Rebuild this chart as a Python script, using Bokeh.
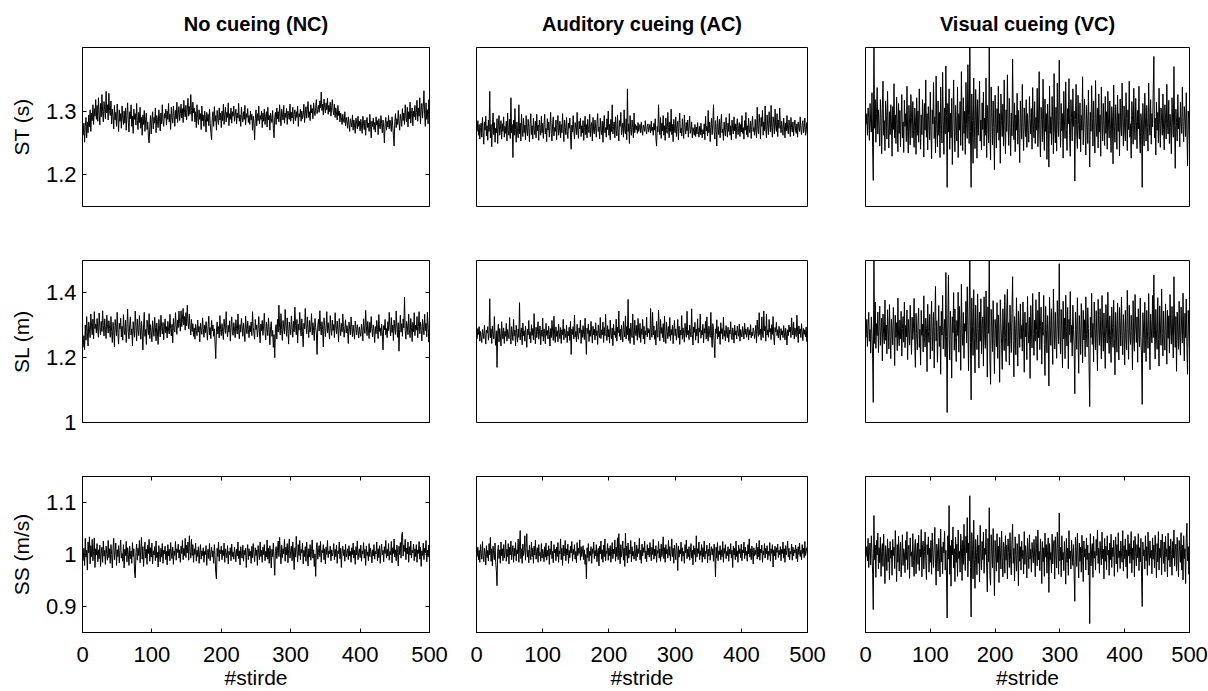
import numpy as np
from bokeh.plotting import figure
from bokeh.models import LinearAxis, Range1d, FixedTicker, CustomJSTickFormatter
from bokeh.layouts import row, column
from bokeh.embed import file_html
from bokeh.resources import INLINE

# ---------------- data (milli-units: ms, mm, mm/s) ----------------
conditions = ["No cueing (NC)", "Auditory cueing (AC)", "Visual cueing (VC)"]
row_labels = ["ST (s)", "SL (m)", "SS (m/s)"]
x_labels = ["#stirde", "#stride", "#stride"]
y_limits = [(1.15, 1.4), (1.0, 1.5), (0.85, 1.15)]
y_ticks = [[1.2, 1.3], [1.0, 1.2, 1.4], [0.9, 1.0, 1.1]]
x_ticks = [0, 100, 200, 300, 400, 500]

st_nc = [
1262,1281,1251,1276,1290,1258,1283,1266,1294,1275,1302,1268,1297,1285,1310,1279,1304,1292,1318,1287,
1309,1284,1321,1296,1278,1312,1291,1326,1299,1283,1315,1302,1288,1331,1297,1310,1286,1328,1301,1293,
1316,1280,1303,1291,1272,1309,1286,1298,1276,1311,1290,1268,1302,1284,1296,1273,1308,1289,1279,1300,
1281,1305,1270,1294,1313,1283,1267,1299,1288,1310,1276,1292,1265,1303,1287,1296,1278,1312,1285,1271,
1298,1282,1306,1273,1290,1262,1294,1279,1301,1268,1287,1297,1271,1283,1259,1250,1276,1293,1264,1286,
1299,1272,1290,1281,1305,1266,1293,1284,1274,1302,1288,1269,1297,1280,1310,1285,1276,1296,1289,1303,
1278,1300,1287,1312,1283,1295,1271,1306,1290,1281,1308,1293,1276,1301,1288,1314,1282,1297,1307,1285,
1296,1311,1289,1304,1282,1317,1298,1291,1309,1286,1303,1320,1292,1307,1295,1326,1301,1284,1314,1297,
1305,1283,1299,1274,1310,1290,1279,1302,1287,1296,1271,1308,1285,1294,1276,1300,1289,1267,1298,1284,
1295,1277,1303,1281,1266,1255,1290,1299,1276,1307,1284,1293,1270,1301,1288,1279,1305,1286,1297,1274,
1300,1285,1311,1279,1294,1306,1283,1298,1290,1313,1277,1296,1287,1305,1281,1299,1292,1308,1284,1295,
1303,1280,1297,1289,1312,1284,1294,1276,1306,1291,1283,1299,1287,1309,1278,1296,1290,1304,1282,1293,
1279,1300,1286,1295,1270,1292,1281,1255,1289,1302,1277,1296,1285,1308,1280,1293,1287,1300,1274,1297,
1284,1303,1279,1291,1299,1275,1306,1286,1293,1270,1297,1288,1282,1301,1273,1258,1290,1298,1279,1305,
1288,1299,1283,1310,1292,1277,1303,1295,1286,1309,1281,1297,1290,1304,1279,1300,1293,1287,1311,1284,
1298,1289,1306,1280,1295,1302,1285,1299,1290,1308,1276,1296,1291,1303,1284,1300,1288,1294,1311,1282,
1296,1307,1289,1302,1315,1290,1299,1285,1310,1297,1304,1288,1313,1300,1293,1306,1318,1296,1302,1309,
1298,1316,1305,1330,1301,1311,1294,1319,1306,1297,1313,1302,1320,1295,1309,1299,1314,1292,1306,1318,
1301,1294,1311,1290,1305,1297,1286,1309,1293,1300,1283,1297,1290,1279,1295,1286,1282,1299,1277,1290,
1284,1273,1291,1279,1268,1288,1282,1275,1294,1270,1286,1278,1265,1289,1281,1272,1292,1276,1284,1269,
1287,1277,1265,1292,1280,1271,1286,1262,1283,1290,1274,1281,1268,1295,1279,1258,1284,1276,1289,1271,
1282,1267,1291,1278,1285,1263,1288,1276,1272,1293,1281,1266,1286,1274,1250,1279,1290,1270,1284,1275,
1293,1272,1286,1280,1268,1291,1277,1262,1245,1284,1296,1274,1288,1279,1301,1283,1270,1295,1287,1276,
1304,1285,1297,1279,1310,1291,1283,1306,1275,1299,1288,1314,1281,1296,1305,1277,1300,1291,1309,1286,
1298,1317,1284,1305,1292,1321,1280,1303,1312,1289,1308,1332,1294,1276,1313,1287,1302,1280,1318,1291,
]

st_ac = [
1268,1285,1262,1279,1256,1274,1281,1259,1290,1266,1248,1283,1270,1292,1261,1277,1254,1286,1268,1331,
1258,1279,1244,1275,1297,1263,1282,1251,1273,1266,1288,1249,1277,1293,1262,1271,1285,1256,1280,1268,
1291,1259,1276,1265,1284,1253,1297,1270,1262,1287,1257,1321,1266,1279,1227,1286,1262,1304,1271,1251,
1283,1268,1258,1310,1264,1281,1253,1295,1272,1260,1289,1266,1278,1255,1293,1270,1261,1287,1274,1252,
1281,1296,1263,1277,1256,1289,1271,1263,1284,1258,1295,1269,1278,1254,1286,1273,1262,1292,1266,1281,
1257,1279,1295,1264,1273,1252,1288,1270,1283,1259,1276,1298,1265,1253,1280,1291,1261,1274,1268,1286,
1255,1277,1293,1262,1270,1284,1258,1279,1266,1296,1271,1252,1286,1274,1263,1290,1268,1257,1281,1273,
1289,1261,1240,1278,1267,1293,1270,1256,1282,1275,1263,1298,1269,1257,1284,1272,1289,1260,1277,1266,
1285,1254,1274,1292,1263,1279,1258,1287,1271,1266,1295,1260,1276,1282,1253,1290,1269,1264,1286,1273,
1259,1281,1296,1268,1275,1256,1289,1270,1263,1284,1251,1278,1293,1266,1274,1259,1288,1271,1300,1262,
1279,1255,1287,1268,1310,1264,1276,1283,1258,1291,1270,1261,1294,1267,1253,1285,1276,1298,1263,1272,
1281,1259,1302,1270,1264,1288,1255,1335,1268,1280,1249,1293,1271,1262,1286,1274,1258,1297,1266,1279,
1271,1277,1265,1282,1268,1274,1279,1266,1283,1270,1262,1278,1273,1268,1285,1271,1264,1276,1280,1267,
1273,1279,1266,1284,1269,1275,1262,1281,1270,1288,1258,1245,1276,1267,1310,1272,1263,1290,1257,1281,
1269,1293,1262,1277,1254,1289,1271,1265,1298,1274,1258,1283,1268,1303,1263,1279,1252,1287,1272,1266,
1291,1260,1276,1284,1255,1279,1297,1266,1273,1261,1288,1270,1257,1294,1275,1264,1282,1269,1286,1259,
1277,1292,1265,1271,1283,1258,1274,1268,1262,1279,1260,1275,1264,1282,1268,1259,1276,1263,1281,1266,
1258,1271,1264,1280,1255,1292,1269,1276,1261,1301,1266,1283,1252,1274,1289,1263,1279,1310,1268,1256,
1285,1271,1245,1292,1274,1263,1287,1258,1278,1295,1266,1272,1254,1283,1270,1261,1290,1275,1259,1281,
1268,1296,1262,1277,1255,1286,1272,1264,1291,1269,1280,1257,1276,1288,1263,1273,1282,1260,1279,1267,
1293,1265,1274,1256,1285,1270,1298,1263,1277,1259,1289,1271,1266,1284,1257,1278,1292,1268,1274,1262,
1287,1270,1258,1306,1273,1264,1295,1281,1256,1290,1276,1301,1262,1283,1269,1308,1271,1258,1294,1277,
1263,1299,1280,1267,1309,1274,1259,1291,1282,1264,1303,1276,1268,1296,1260,1286,1273,1305,1279,1266,
1284,1271,1262,1289,1275,1258,1281,1269,1293,1272,1264,1286,1277,1260,1290,1274,1267,1283,1261,1278,
1286,1270,1265,1280,1259,1283,1275,1268,1291,1272,1263,1279,1285,1266,1274,1289,1262,1270,1282,1258,
]

st_vc = [
1279,1296,1262,1305,1288,1254,1312,1281,1267,1329,1243,1191,1420,1273,1318,1251,1296,1337,1264,1302,
1276,1245,1318,1289,1233,1304,1347,1262,1285,1238,1316,1293,1256,1331,1275,1242,1299,1263,1310,1284,
1229,1307,1271,1343,1258,1294,1249,1322,1280,1236,1312,1265,1301,1244,1289,1326,1258,1283,1235,1317,
1276,1296,1252,1339,1268,1234,1309,1281,1247,1326,1290,1258,1315,1270,1243,1305,1286,1232,1321,1262,
1300,1251,1335,1277,1240,1294,1263,1318,1286,1228,1312,1270,1349,1259,1296,1239,1307,1282,1255,1330,
1268,1225,1302,1280,1345,1257,1291,1234,1355,1273,1244,1316,1262,1298,1227,1338,1279,1250,1361,1284,
1232,1305,1264,1371,1293,1180,1312,1267,1335,1240,1297,1258,1320,1216,1288,1349,1272,1236,1309,1281,
1253,1338,1227,1296,1270,1315,1246,1362,1284,1238,1321,1265,1300,1232,1345,1279,1257,1373,1293,1249,
1410,1268,1180,1327,1285,1218,1352,1276,1241,1334,1300,1226,1318,1262,1297,1347,1253,1286,1239,1313,
1271,1330,1245,1289,1262,1352,1227,1309,1283,1250,1410,1266,1223,1338,1290,1247,1316,1274,1208,1325,
1281,1242,1304,1266,1339,1254,1296,1218,1327,1285,1260,1311,1245,1349,1277,1233,1302,1268,1357,1281,
1246,1320,1274,1230,1297,1261,1382,1289,1255,1313,1236,1294,1270,1328,1248,1301,1265,1219,1316,1282,
1256,1342,1274,1238,1305,1279,1260,1318,1243,1296,1270,1251,1323,1287,1264,1304,1240,1337,1278,1258,
1315,1249,1290,1270,1336,1244,1281,1362,1263,1228,1306,1287,1252,1350,1275,1238,1319,1268,1296,1224,
1311,1280,1212,1339,1265,1291,1247,1323,1284,1233,1359,1272,1250,1306,1237,1344,1277,1260,1380,1285,
1243,1312,1269,1296,1226,1331,1283,1257,1346,1271,1238,1304,1280,1351,1262,1229,1318,1290,1253,1335,
1276,1300,1190,1287,1342,1264,1241,1325,1279,1256,1313,1236,1293,1270,1354,1247,1285,1319,1266,1231,
1309,1281,1249,1333,1274,1212,1298,1268,1340,1288,1245,1316,1271,1234,1348,1283,1260,1305,1242,1327,
1267,1294,1229,1338,1285,1253,1312,1277,1246,1323,1265,1299,1240,1331,1280,1258,1316,1271,1235,1307,
1289,1217,1341,1276,1251,1310,1283,1240,1325,1268,1296,1230,1319,1275,1261,1344,1284,1245,1308,1272,
1253,1329,1288,1238,1302,1271,1347,1259,1280,1226,1315,1293,1248,1336,1277,1255,1320,1284,1241,1301,
1272,1339,1260,1234,1296,1283,1180,1312,1269,1245,1328,1286,1253,1309,1274,1237,1344,1281,1262,1318,
1248,1296,1275,1330,1386,1258,1289,1231,1314,1270,1298,1250,1336,1279,1243,1305,1285,1262,1327,1271,
1239,1310,1288,1256,1342,1280,1264,1317,1249,1295,1274,1233,1321,1286,1259,1370,1277,1210,1303,1282,
1253,1326,1272,1290,1244,1314,1281,1265,1338,1276,1252,1307,1289,1260,1329,1271,1214,1300,1287,1248,
]

sl_nc = [
1232,1268,1225,1301,1254,1327,1279,1236,1310,1288,1262,1335,1297,1271,1319,1258,1342,1290,1304,1276,
1321,1285,1263,1338,1294,1270,1312,1281,1345,1299,1267,1320,1288,1259,1331,1302,1276,1314,1290,1263,
1327,1281,1247,1309,1286,1233,1318,1295,1268,1340,1277,1242,1306,1289,1322,1264,1297,1254,1333,1284,
1271,1316,1247,1292,1350,1279,1258,1303,1326,1270,1289,1237,1311,1283,1263,1344,1297,1252,1319,1286,
1268,1330,1293,1257,1312,1279,1224,1301,1340,1266,1287,1241,1316,1294,1271,1336,1259,1302,1281,1249,
1314,1288,1266,1325,1293,1252,1307,1276,1241,1318,1289,1264,1331,1296,1273,1309,1255,1292,1320,1277,
1296,1261,1312,1285,1273,1334,1290,1267,1303,1246,1321,1288,1279,1339,1300,1272,1316,1293,1344,1306,
1282,1345,1296,1318,1352,1301,1327,1285,1339,1298,1362,1310,1289,1334,1295,1270,1318,1281,1305,1266,
1292,1257,1303,1284,1268,1316,1279,1296,1249,1307,1285,1272,1323,1290,1263,1301,1277,1311,1288,1254,
1297,1328,1270,1293,1259,1315,1283,1301,1266,1289,1245,1197,1282,1310,1273,1296,1261,1330,1287,1268,
1305,1281,1256,1319,1292,1275,1342,1288,1264,1300,1279,1314,1251,1293,1326,1280,1269,1308,1286,1262,
1317,1290,1273,1335,1284,1258,1302,1279,1321,1295,1266,1306,1283,1250,1329,1291,1274,1313,1287,1262,
1299,1280,1310,1268,1342,1293,1276,1257,1318,1287,1301,1264,1290,1327,1276,1246,1304,1283,1315,1269,
1298,1337,1281,1255,1309,1290,1268,1323,1285,1240,1296,1311,1266,1284,1232,1271,1200,1289,1302,1258,
1318,1279,1362,1294,1270,1336,1287,1253,1315,1292,1274,1349,1301,1266,1323,1283,1242,1310,1291,1271,
1329,1294,1263,1312,1280,1356,1299,1271,1318,1245,1303,1285,1340,1292,1267,1320,1281,1234,1306,1289,
1352,1301,1274,1326,1288,1262,1315,1279,1297,1336,1270,1308,1284,1253,1321,1293,1276,1210,1299,1318,
1282,1345,1296,1270,1311,1287,1233,1323,1300,1265,1294,1342,1277,1308,1283,1257,1330,1291,1269,1316,
1284,1302,1262,1339,1295,1274,1313,1286,1249,1321,1292,1268,1306,1280,1335,1297,1263,1290,1317,1276,
1299,1282,1244,1310,1288,1271,1326,1294,1265,1301,1279,1257,1313,1291,1270,1302,1284,1261,1295,1277,
1266,1304,1283,1252,1320,1289,1275,1346,1297,1268,1312,1285,1259,1309,1278,1327,1290,1264,1301,1283,
1247,1296,1274,1315,1288,1259,1333,1281,1292,1268,1304,1276,1224,1299,1286,1318,1271,1290,1262,1311,
1284,1340,1293,1267,1324,1278,1301,1253,1316,1289,1272,1344,1295,1263,1308,1220,1287,1331,1279,1305,
1266,1320,1292,1387,1283,1257,1312,1298,1271,1335,1286,1262,1321,1294,1250,1309,1280,1339,1268,1301,
1285,1327,1261,1296,1342,1274,1310,1288,1252,1318,1297,1271,1334,1283,1306,1265,1340,1291,1248,1322,
]

sl_ac = [
1258,1290,1272,1296,1251,1281,1265,1247,1287,1273,1259,1300,1268,1242,1285,1276,1296,1254,1270,1382,
1262,1289,1244,1298,1271,1258,1327,1264,1238,1283,1170,1276,1303,1249,1290,1267,1236,1311,1273,1258,
1292,1244,1281,1266,1306,1251,1287,1270,1259,1324,1263,1242,1296,1277,1253,1318,1268,1285,1237,1300,
1274,1248,1289,1263,1370,1255,1279,1292,1240,1307,1268,1283,1251,1298,1264,1232,1288,1271,1315,1258,
1280,1246,1302,1269,1290,1255,1336,1272,1243,1294,1262,1281,1311,1257,1276,1298,1240,1285,1266,1322,
1251,1289,1274,1243,1306,1269,1284,1258,1297,1272,1236,1290,1262,1315,1280,1253,1328,1271,1247,1295,
1266,1283,1249,1304,1278,1259,1293,1244,1286,1270,1318,1255,1289,1275,1262,1300,1247,1281,1268,1294,
1253,1312,1210,1288,1272,1296,1258,1331,1264,1281,1249,1303,1270,1257,1292,1276,1316,1244,1286,1263,
1299,1271,1256,1322,1267,1210,1291,1275,1304,1250,1284,1266,1312,1279,1245,1297,1270,1288,1255,1308,
1268,1283,1241,1301,1274,1262,1324,1259,1286,1271,1310,1247,1293,1268,1334,1276,1253,1299,1264,1287,
1245,1316,1273,1258,1292,1237,1303,1270,1281,1262,1319,1251,1294,1277,1344,1266,1288,1255,1301,1273,
1249,1312,1283,1264,1329,1258,1296,1271,1380,1253,1290,1244,1307,1278,1262,1335,1269,1240,1316,1283,
1268,1300,1254,1321,1277,1262,1306,1247,1289,1272,1318,1258,1297,1242,1283,1270,1325,1264,1291,1276,
1287,1255,1352,1278,1263,1340,1270,1298,1257,1284,1239,1312,1273,1263,1347,1286,1252,1318,1275,1293,
1262,1305,1249,1328,1271,1244,1310,1280,1259,1296,1266,1324,1253,1287,1270,1300,1243,1282,1315,1268,
1289,1254,1276,1318,1262,1297,1241,1285,1270,1330,1257,1292,1274,1248,1306,1279,1263,1343,1271,1284,
1256,1301,1280,1264,1351,1272,1239,1295,1278,1309,1254,1288,1267,1320,1245,1292,1279,1335,1260,1284,
1270,1303,1246,1290,1276,1312,1258,1326,1271,1251,1297,1280,1263,1340,1268,1232,1305,1285,1245,1200,
1289,1275,1317,1258,1296,1264,1281,1241,1308,1275,1290,1257,1325,1266,1284,1252,1299,1271,1262,1294,
1248,1285,1273,1311,1264,1256,1292,1277,1245,1301,1270,1283,1258,1298,1279,1266,1304,1251,1287,1275,
1264,1296,1280,1258,1307,1272,1289,1263,1278,1294,1255,1286,1270,1302,1261,1279,1268,1292,1283,1259,
1274,1300,1245,1316,1282,1266,1339,1271,1288,1254,1326,1276,1262,1344,1283,1297,1251,1334,1270,1286,
1263,1318,1279,1290,1256,1302,1272,1327,1265,1240,1293,1280,1309,1268,1286,1261,1297,1275,1254,1290,
1270,1283,1262,1299,1277,1255,1291,1273,1239,1286,1268,1301,1279,1294,1262,1323,1284,1270,1310,1258,
1292,1277,1265,1331,1282,1247,1298,1274,1289,1262,1305,1279,1253,1290,1272,1286,1264,1295,1250,1281,
]

sl_vc = [
1262,1318,1235,1296,1340,1251,1287,1214,1326,1275,1198,1062,1530,1244,1372,1229,1305,1268,1341,1216,
1297,1359,1238,1284,1322,1190,1335,1271,1243,1378,1254,1301,1212,1348,1286,1227,1364,1265,1197,1319,
1282,1240,1355,1296,1176,1331,1263,1308,1222,1384,1270,1237,1316,1259,1343,1205,1290,1327,1248,1372,
1231,1300,1264,1347,1194,1318,1279,1239,1362,1286,1210,1325,1256,1291,1383,1242,1170,1337,1275,1224,
1309,1353,1232,1288,1177,1346,1269,1303,1218,1391,1262,1233,1322,1290,1157,1365,1281,1247,1334,1196,
1305,1374,1221,1283,1340,1168,1297,1420,1252,1314,1186,1277,1361,1235,1298,1149,1343,1270,1392,1227,
1281,1318,1203,1463,1266,1031,1310,1455,1259,1193,1344,1285,1137,1326,1277,1401,1223,1350,1263,1188,
1315,1269,1402,1217,1358,1291,1161,1427,1276,1238,1340,1198,1305,1282,1374,1246,1419,1300,1160,1335,
1530,1247,1070,1384,1296,1207,1410,1263,1153,1362,1279,1225,1397,1290,1168,1341,1251,1382,1212,1303,
1326,1174,1388,1264,1229,1406,1285,1140,1357,1275,1530,1196,1118,1349,1292,1219,1376,1260,1151,1318,
1287,1233,1370,1198,1332,1271,1124,1379,1306,1245,1164,1351,1283,1222,1395,1262,1188,1344,1411,1236,
1308,1177,1362,1280,1216,1337,1450,1253,1141,1327,1290,1209,1385,1268,1174,1343,1297,1232,1366,1258,
1300,1221,1372,1279,1155,1341,1264,1308,1194,1389,1283,1245,1325,1136,1361,1289,1230,1398,1271,1207,
1316,1251,1379,1284,1192,1346,1262,1403,1225,1297,1356,1180,1310,1269,1392,1241,1145,1358,1287,1215,
1330,1273,1113,1387,1296,1238,1351,1263,1179,1412,1289,1227,1340,1256,1198,1376,1302,1243,1490,1276,
1211,1349,1285,1168,1374,1258,1322,1197,1393,1280,1236,1355,1166,1318,1271,1404,1247,1300,1205,1362,
1287,1233,1089,1341,1298,1226,1385,1264,1152,1330,1279,1210,1367,1291,1184,1346,1255,1317,1203,1388,
1272,1233,1354,1290,1176,1049,1325,1262,1399,1241,1306,1187,1372,1284,1224,1345,1263,1159,1380,1295,
1238,1351,1270,1196,1392,1283,1220,1338,1259,1167,1364,1291,1245,1402,1276,1213,1329,1268,1185,1356,
1294,1232,1377,1260,1147,1340,1285,1217,1369,1274,1193,1355,1301,1236,1387,1268,1209,1333,1280,1178,
1346,1261,1224,1408,1290,1195,1362,1273,1241,1331,1284,1162,1376,1255,1220,1395,1298,1247,1326,1186,
1351,1278,1234,1384,1266,1200,1056,1339,1292,1215,1371,1257,1188,1346,1281,1229,1398,1270,1163,1335,
1289,1246,1392,1262,1455,1283,1196,1349,1270,1226,1385,1257,1174,1360,1298,1238,1412,1275,1205,1344,
1268,1223,1366,1291,1180,1347,1260,1329,1214,1395,1287,1242,1358,1270,1199,1450,1304,1232,1327,1158,
1341,1279,1226,1374,1263,1208,1356,1292,1245,1399,1273,1190,1337,1262,1381,1228,1149,1346,1285,1220,
]

ss_nc = [
988,1012,979,1031,995,1008,970,1024,1003,1034,982,1017,996,1029,988,1006,1032,975,1011,999,
1021,986,1009,992,1018,977,1003,1014,985,1026,997,1008,981,1016,1002,989,1027,994,1011,983,
1019,1000,974,1012,1031,990,1005,1022,979,1009,996,1017,984,1008,1028,993,1002,987,1019,974,
1010,998,1025,986,1013,1001,979,1016,992,1007,983,1023,996,1011,966,955,1004,1020,989,1012,
998,1027,984,1009,1033,991,1015,977,1006,1024,993,1010,981,1018,1002,1029,987,1013,995,1022,
982,1007,999,1015,988,1026,994,1004,976,1017,1000,986,1012,995,1021,983,1008,1001,1016,990,
1006,980,1019,997,1010,988,1023,1003,992,1014,981,1007,998,1025,989,1011,1004,1020,993,1009,
985,1016,1002,1027,990,1012,998,1031,994,1018,1003,1024,989,1036,1006,993,1029,998,1019,985,
1011,1000,1022,987,1008,996,1015,983,1003,1019,991,1007,998,1013,985,1006,1000,1017,979,1004,
1010,992,1021,988,1002,1014,995,1007,983,1019,998,965,953,1012,996,1024,987,1009,1001,1016,
990,1008,998,1022,985,1011,1003,994,1017,982,1006,999,1013,988,1020,996,1005,991,1014,1002,
986,1010,997,1024,992,1007,980,1015,1001,993,1018,987,1008,999,1012,975,1004,1019,990,1011,
997,1006,983,1016,994,1021,1002,986,1013,998,1009,979,1017,1003,990,1024,996,1008,985,1014,
1000,1019,988,1006,995,1028,991,1012,983,1017,1003,974,1010,996,1022,989,960,1006,1015,992,
1008,1026,996,1033,1004,982,1018,994,1011,1001,1029,987,1014,999,1021,984,1009,1030,993,1006,
1016,988,1024,1001,971,1013,995,1035,1007,986,1019,998,1027,990,1010,1003,1022,982,1008,996,
1015,987,1024,1002,978,1011,995,1019,989,1006,1028,993,1009,977,1001,958,1013,1023,991,1004,
1017,996,1025,985,1008,1003,1019,990,1011,982,1014,1000,1027,994,1007,1001,1016,988,1009,997,
1004,1021,990,1010,996,1018,983,1007,1001,1024,992,1012,975,1005,1016,998,1009,987,1020,995,
1003,1011,990,1017,997,1006,985,1013,1000,1022,993,1008,981,1015,999,1026,990,1004,1011,994,
1018,987,1007,1001,1023,993,1010,979,1016,998,1005,988,1021,996,1012,1003,984,1009,997,1019,
991,1006,1001,1024,988,1011,994,1017,983,1005,1020,999,1008,986,1015,1002,1027,993,1010,997,
1021,989,1006,999,1025,984,1013,1002,1030,995,1009,988,1018,1004,978,1016,1000,1023,993,1038,
1043,997,1018,1006,1029,990,1012,1001,1024,985,1015,999,1026,993,1008,1003,1020,988,1011,996,
1019,985,1009,1002,1025,991,1014,977,1007,998,1022,990,1012,1003,1027,986,1008,995,1018,1000,
]

ss_ac = [
996,1014,990,1008,985,1019,1002,991,1025,997,986,1012,1003,980,1017,994,1008,988,1021,999,
1033,987,1011,978,1016,1001,990,1022,985,969,940,1006,1018,992,1009,983,1024,997,1011,988,
1019,993,1005,1028,987,1010,996,1021,982,1014,999,1026,990,1004,1017,985,1012,997,1023,988,
1009,1001,1030,985,1016,1046,992,1011,983,1020,998,1007,1036,989,1014,1040,995,1008,984,1018,
1001,990,1024,996,1012,983,1016,999,1028,991,1006,1013,985,1019,998,1004,987,1021,993,1010,
1002,986,1015,995,1022,989,1008,997,1017,981,1011,1000,1026,992,1006,984,1019,1003,1010,988,
1014,996,1023,985,1007,1001,1030,990,1012,979,1018,997,1005,1027,988,1011,999,1020,983,1008,
994,1016,1003,1025,987,1010,1000,1019,991,1006,984,1023,998,1012,1002,1028,989,1015,996,1005,
1017,990,1009,981,1000,953,1013,994,1021,987,1006,998,1015,983,1011,1002,1024,992,1008,997,
1019,986,1004,1012,978,1016,1001,1026,991,1009,985,1018,996,1030,988,1007,1002,1021,989,1012,
998,1017,985,1006,1023,992,1010,1001,1028,987,1014,996,1032,990,1040,1003,982,1019,995,1008,
1026,989,1012,977,1041,998,1016,984,1022,993,1009,1001,1027,986,1015,997,1006,991,1024,1003,
988,1018,995,1011,1002,1031,990,1008,983,1020,997,1013,1004,1026,992,1007,986,1019,999,1012,
995,1023,1005,988,1014,1000,1029,991,1010,997,1017,985,1008,1002,1025,993,1011,987,1020,996,
1006,1034,992,1013,985,1019,1001,1010,993,1027,998,1015,988,1005,1030,996,1012,983,1018,1002,
990,1022,1007,969,1016,995,1009,1001,1024,987,1013,997,1006,983,1019,1003,1028,992,1010,996,
1015,989,1004,1021,993,1008,980,1017,1000,1012,986,1036,995,1011,1002,1024,990,1007,998,1019,
985,1013,996,1026,991,1006,1002,1018,984,1010,997,1022,989,1005,1015,999,1011,987,1020,1001,
957,1014,993,1023,988,1007,1000,1017,990,1009,996,1025,985,1012,1002,1019,992,1006,998,1015,
987,1010,1001,1021,993,1008,975,1016,999,1012,990,1026,996,1007,985,1018,1002,1011,994,1020,
988,1009,1003,1024,992,1014,998,1006,987,1019,1001,1030,995,1011,990,1016,1004,982,1013,997,
1008,1000,1022,991,1014,996,1027,989,1010,1003,1018,985,1007,999,1021,993,1012,1001,1017,990,
1006,998,1023,987,1011,1002,1019,976,1009,997,1016,990,1013,1004,1020,994,1008,999,1015,988,
1010,1002,1024,993,1011,985,1017,999,1008,1026,995,1012,990,1006,1001,1020,989,1014,997,1009,
1003,1018,992,1011,986,1015,1000,1022,996,1008,990,1019,1002,1012,994,1025,998,1006,1013,1001,
]

ss_vc = [
996,1015,988,1031,975,1008,1022,980,1036,1004,962,894,1075,990,1018,956,1027,999,1041,972,
1013,984,1033,958,1006,1021,977,1039,995,944,1017,1002,969,1030,986,1012,951,1025,993,1008,
960,1029,998,1014,973,1046,1003,948,1019,985,1035,968,1007,1024,957,992,1038,979,1011,1001,
965,1027,990,1044,971,1009,1018,954,1032,997,1005,976,1040,989,958,1016,1029,963,1003,1022,
981,1037,969,1010,995,1048,957,1014,1026,972,1006,1043,988,952,1019,1000,1034,966,1012,985,
1027,962,1041,999,975,1016,1052,983,941,1020,1007,968,1031,994,957,1049,986,1015,963,1024,
1003,1045,970,1008,955,878,1036,991,1094,962,1017,939,1028,999,1053,974,1011,948,1033,985,
1020,958,1047,992,1006,966,1039,1014,950,1027,981,1058,996,969,1035,1003,1071,957,1022,988,
1113,975,880,1042,1010,953,1066,991,935,1029,1004,961,1037,983,1018,947,1056,999,970,1025,
990,1043,964,1012,1000,1049,972,928,1031,986,1090,959,941,1038,1005,974,1050,992,921,1027,
1001,968,1040,985,1016,946,1033,1007,972,1045,994,957,1024,1011,964,1036,989,1018,953,1030,
1004,975,1042,990,961,1027,1058,983,1012,949,1034,998,968,1021,1005,940,1039,987,1015,970,
1026,992,1008,963,1044,981,1017,999,955,1031,1006,973,1038,991,1010,966,1023,1002,984,1029,
997,957,1035,1012,978,1047,990,1006,969,1030,1001,944,1025,986,1013,958,1041,995,1019,964,
1008,1032,927,1021,990,1004,965,1039,982,1016,1027,953,1034,999,974,1043,1011,962,1080,988,
1014,957,1036,990,1004,969,1025,998,943,1031,985,1012,960,1046,992,1007,972,1028,1001,979,
1019,962,910,1033,1008,977,1041,993,955,1022,987,1014,966,1037,1002,948,1026,995,1011,970,
1032,990,1018,961,1003,867,1040,978,1009,1021,956,1035,993,1006,970,1029,998,1047,983,1012,
964,1025,1001,980,1043,992,1010,953,1031,987,1016,971,1036,999,1008,960,1022,990,1039,975,
1013,996,1028,958,1005,1034,982,1019,966,1042,994,1007,973,1026,1001,985,1046,968,1017,992,
1030,976,1009,954,1038,997,1021,983,1006,1044,965,1012,990,1027,957,1035,1003,978,1019,994,
1040,969,1013,986,1031,958,900,1024,997,1009,972,1036,988,1015,960,1043,1001,979,1026,993,
1008,963,1032,991,1018,974,1037,999,955,1021,986,1044,970,1012,994,1028,961,1039,1005,983,
1024,967,1035,996,1011,957,1041,989,1016,976,1030,1000,960,1025,993,1047,978,1009,1020,968,
1033,999,957,1027,1006,985,1042,970,1018,951,1036,992,1011,944,1031,1060,988,1015,962,1024,
]

series = [
    [st_nc, st_ac, st_vc],
    [sl_nc, sl_ac, sl_vc],
    [ss_nc, ss_ac, ss_vc],
]

# ---------------- layout ----------------
FONT = "Liberation Sans"
FRAME_W = [347, 331, 324]
BORDER_L = [82, 24, 27]
BORDER_R = [23, 31, 19]
FRAME_H = [159, 162, 158]
BORDER_T = [47, 27, 27]
BORDER_B = [27, 27, 57]


def add_axis(p, side, ticks, labelled=False, axis_label=None, vertical=False):
    ax = LinearAxis(ticker=FixedTicker(ticks=ticks))
    ax.major_tick_in = 4
    ax.major_tick_out = 0
    ax.major_tick_line_color = "black"
    ax.major_tick_line_width = 1
    ax.minor_tick_line_color = None
    ax.axis_line_color = "black"
    ax.axis_line_width = 1
    if labelled:
        ax.formatter = CustomJSTickFormatter(code="return tick.toString();")
        ax.major_label_text_font = FONT
        ax.major_label_text_font_size = "22px"
        ax.major_label_text_color = "black"
        ax.major_label_standoff = 6 if vertical else 14
        if axis_label:
            ax.axis_label = axis_label
            ax.axis_label_text_font = FONT
            ax.axis_label_text_font_size = "21px"
            ax.axis_label_text_font_style = "normal"
            ax.axis_label_text_color = "black"
            ax.axis_label_standoff = 10 if vertical else 1
    else:
        # mirrored tick marks only (MATLAB box style): no tick labels
        ax.formatter = CustomJSTickFormatter(code="return '';")
        ax.major_label_text_color = None
        ax.major_label_text_font_size = "1px"
        ax.major_label_standoff = 0
    p.add_layout(ax, side)


cols = []
for c in range(3):
    panels = []
    for r in range(3):
        w = BORDER_L[c] + FRAME_W[c] + BORDER_R[c]
        h = BORDER_T[r] + FRAME_H[r] + BORDER_B[r]
        p = figure(width=w, height=h,
                   x_range=Range1d(0, 500), y_range=Range1d(*y_limits[r]),
                   x_axis_location=None, y_axis_location=None,
                   toolbar_location=None, output_backend="svg",
                   min_border_left=BORDER_L[c], min_border_right=BORDER_R[c],
                   min_border_top=BORDER_T[r], min_border_bottom=BORDER_B[r])
        p.grid.visible = False
        p.outline_line_color = "black"
        p.outline_line_width = 1
        p.background_fill_color = "white"
        p.border_fill_color = "white"
        if r == 0:
            p.title.text = conditions[c]
            p.title.align = "center"
            p.title.vertical_align = "top"
            p.title.text_font = FONT
            p.title.text_font_size = "20px"
            p.title.text_font_style = "bold"
            p.title.text_color = "black"
            p.title.standoff = 22
        if c == 0:
            add_axis(p, "left", y_ticks[r], labelled=True,
                     axis_label=row_labels[r], vertical=True)
            add_axis(p, "right", y_ticks[r])
        if r == 2:
            add_axis(p, "below", x_ticks, labelled=True, axis_label=x_labels[c])
            add_axis(p, "above", x_ticks)
        vals = np.array(series[r][c], dtype=float) / 1000.0
        x = np.arange(1, len(vals) + 1)
        p.line(x, vals, line_color="black", line_width=1)
        panels.append(p)
    cols.append(column(*panels, spacing=0))

layout = row(*cols, spacing=0)

open("out.html", "w").write(file_html(layout, INLINE))
